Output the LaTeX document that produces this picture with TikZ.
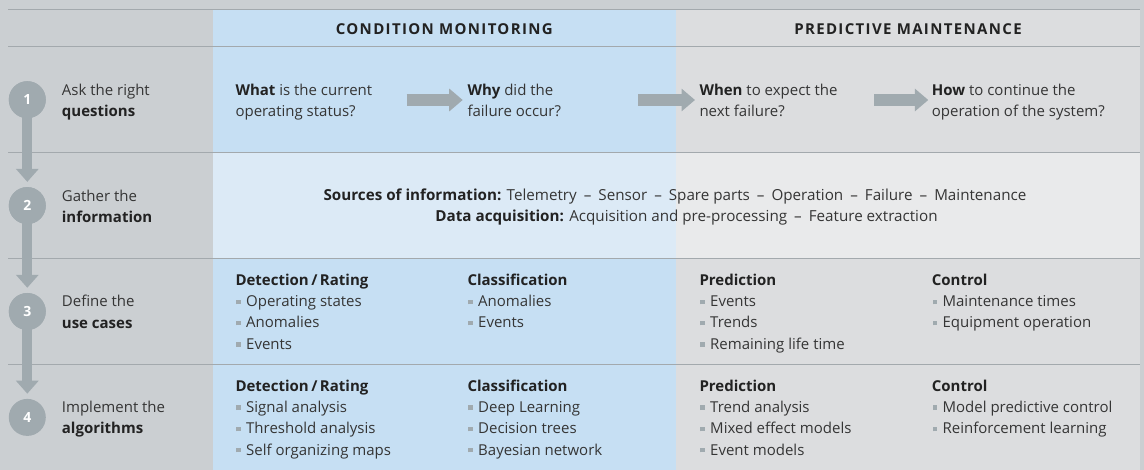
\documentclass[tikz,border=0pt]{standalone}
\usepackage{fontspec}
\setmainfont{Open Sans}
\newfontfamily\condfont{Open Sans}
\newfontfamily\hdrfont[LetterSpace=9]{Open Sans}
\usetikzlibrary{arrows.meta,calc}
\definecolor{pagebg}{HTML}{CBCFD2}
\definecolor{blueA}{HTML}{C6DFF3}
\definecolor{blueB}{HTML}{DCEAF6}
\definecolor{grayA}{HTML}{DCDDDF}
\definecolor{grayB}{HTML}{E9EAEB}
\definecolor{rulecol}{HTML}{A3A9AD}
\definecolor{markcol}{HTML}{A0AAAF}
\definecolor{txtcol}{HTML}{353535}
\definecolor{hdrcol}{HTML}{222222}
\newcommand{\blt}{\textcolor{markcol}{\rule[2.6pt]{4.6pt}{4.6pt}}\hspace{5.4pt}}
\newcommand{\dsh}{\hspace{7pt}–\hspace{7pt}}
\begin{document}
\begin{tikzpicture}[x=1pt,y=-1pt,
  body/.style={anchor=base west,inner sep=0pt,text=txtcol,font=\fontsize{15}{18}\selectfont},
  head/.style={anchor=base west,inner sep=0pt,text=hdrcol,font=\bfseries\fontsize{15}{18}\selectfont},
  hdr/.style={anchor=base,inner sep=0pt,text=hdrcol,font=\hdrfont\bfseries\fontsize{15}{15}\selectfont},
  cond/.style={anchor=base,inner sep=0pt,text=txtcol,font=\condfont\fontsize{15.2}{18}\selectfont},
  stepcirc/.style={circle,fill=markcol,minimum size=37pt,inner sep=0pt,text=white,font=\bfseries\fontsize{14}{14}\selectfont},
  steparrow/.style={draw=markcol,line width=10pt,-{Triangle[length=13pt,width=22pt]}},
  flowarrow/.style={draw=markcol,line width=12pt,-{Triangle[length=13.5pt,width=22pt]}},
  rowline/.style={draw=rulecol,line width=1.2pt}]
\useasboundingbox (0,0) rectangle (1144,470);
% panels
\fill[pagebg] (0,0) rectangle (1144,470);
\fill[blueA] (212.7,9.3) rectangle (676,470);
\fill[grayA] (676,9.3) rectangle (1140,470);
\fill[blueB] (212.7,152.7) rectangle (676,258.3);
\fill[grayB] (676,152.7) rectangle (1140,258.3);
\foreach \yy in {9.3,46.7,152.7,258.3,364.3}
  \draw[rowline] (8,\yy) -- (1140,\yy);
% headers
\node[hdr] (hcm) at (444.3,34.3) {CONDITION MONITORING};
\node[hdr] (hpm) at (908,34.3) {PREDICTIVE MAINTENANCE};
% step circles
\node[stepcirc] (c1) at (27.3,99.7) {1};
\node[stepcirc] (c2) at (27.3,205.6) {2};
\node[stepcirc] (c3) at (27.3,311.5) {3};
\node[stepcirc] (c4) at (27.3,417.4) {4};
\draw[steparrow] (c1.center) -- ($(c2.north)+(0,-5)$);
\draw[steparrow] (c2.center) -- ($(c3.north)+(0,-5)$);
\draw[steparrow] (c3.center) -- ($(c4.north)+(0,-5)$);
\node[stepcirc] at (c1) {1};
\node[stepcirc] at (c2) {2};
\node[stepcirc] at (c3) {3};
% step labels
\node[body] (s1a) at (61.7,95.7) {Ask the right};
\node[head] (s1b) at (61.7,117) {questions};
\node[body] (s2a) at (61.7,201.2) {Gather the};
\node[head] (s2b) at (61.7,222.5) {information};
\node[body] (s3a) at (61.7,306.9) {Define the};
\node[head] (s3b) at (61.7,328.2) {use cases};
\node[body] (s4a) at (61.7,412.7) {Implement the};
\node[head] (s4b) at (61.7,434) {algorithms};
% row 1 questions
\node[body] (q1a) at (235.3,95.7) {\textbf{\color{hdrcol}What} is the current};
\node[body] (q1b) at (235.3,117) {operating status?};
\node[body] (q2a) at (467.3,95.7) {\textbf{\color{hdrcol}Why} did the};
\node[body] (q2b) at (467.3,117) {failure occur?};
\node[body] (q3a) at (699.3,95.7) {\textbf{\color{hdrcol}When} to expect the};
\node[body] (q3b) at (699.3,117) {next failure?};
\node[body] (q4a) at (931.7,95.7) {\textbf{\color{hdrcol}How} to continue the};
\node[body] (q4b) at (931.7,117) {operation of the system?};
\coordinate (a1s) at (406.7,100); \coordinate (a1e) at (462.7,100);
\coordinate (a2s) at (638.3,100); \coordinate (a2e) at (695,100);
\coordinate (a3s) at (874.3,100); \coordinate (a3e) at (928.3,100);
\draw[flowarrow] (a1s) -- (a1e);
\draw[flowarrow] (a2s) -- (a2e);
\draw[flowarrow] (a3s) -- (a3e);
% row 2
\node[cond] (src) at (675,200.5) {\textbf{\color{hdrcol}Sources of information:} Telemetry\dsh Sensor\dsh Spare parts\dsh Operation\dsh Failure\dsh Maintenance};
\node[cond] (acq) at (686.5,221.5) {\textbf{\color{hdrcol}Data acquisition:} Acquisition and pre-processing\dsh Feature extraction};
% row 3
\node[head] (u1h) at (235.3,286) {Detection\,/\,Rating};
\node[body] (u1a) at (236,306.9) {\blt Operating states};
\node[body] (u1b) at (236,328) {\blt Anomalies};
\node[body] (u1c) at (236,349.2) {\blt Events};
\node[head] (u2h) at (467.3,286) {Classification};
\node[body] (u2a) at (468,306.9) {\blt Anomalies};
\node[body] (u2b) at (468,328) {\blt Events};
\node[head] (u3h) at (699.3,286) {Prediction};
\node[body] (u3a) at (700,306.9) {\blt Events};
\node[body] (u3b) at (700,328) {\blt Trends};
\node[body] (u3c) at (700,349.2) {\blt Remaining life time};
\node[head] (u4h) at (931.7,286) {Control};
\node[body] (u4a) at (932.4,306.9) {\blt Maintenance times};
\node[body] (u4b) at (932.4,328) {\blt Equipment operation};
% row 4
\node[head] (g1h) at (235.3,391.5) {Detection\,/\,Rating};
\node[body] (g1a) at (236,412.7) {\blt Signal analysis};
\node[body] (g1b) at (236,433.9) {\blt Threshold analysis};
\node[body] (g1c) at (236,455) {\blt Self organizing maps};
\node[head] (g2h) at (467.3,391.5) {Classification};
\node[body] (g2a) at (468,412.7) {\blt Deep Learning};
\node[body] (g2b) at (468,433.9) {\blt Decision trees};
\node[body] (g2c) at (468,455) {\blt Bayesian network};
\node[head] (g3h) at (699.3,391.5) {Prediction};
\node[body] (g3a) at (700,412.7) {\blt Trend analysis};
\node[body] (g3b) at (700,433.9) {\blt Mixed effect models};
\node[body] (g3c) at (700,455) {\blt Event models};
\node[head] (g4h) at (931.7,391.5) {Control};
\node[body] (g4a) at (932.4,412.7) {\blt Model predictive control};
\node[body] (g4b) at (932.4,433.9) {\blt Reinforcement learning};
\end{tikzpicture}
\end{document}
